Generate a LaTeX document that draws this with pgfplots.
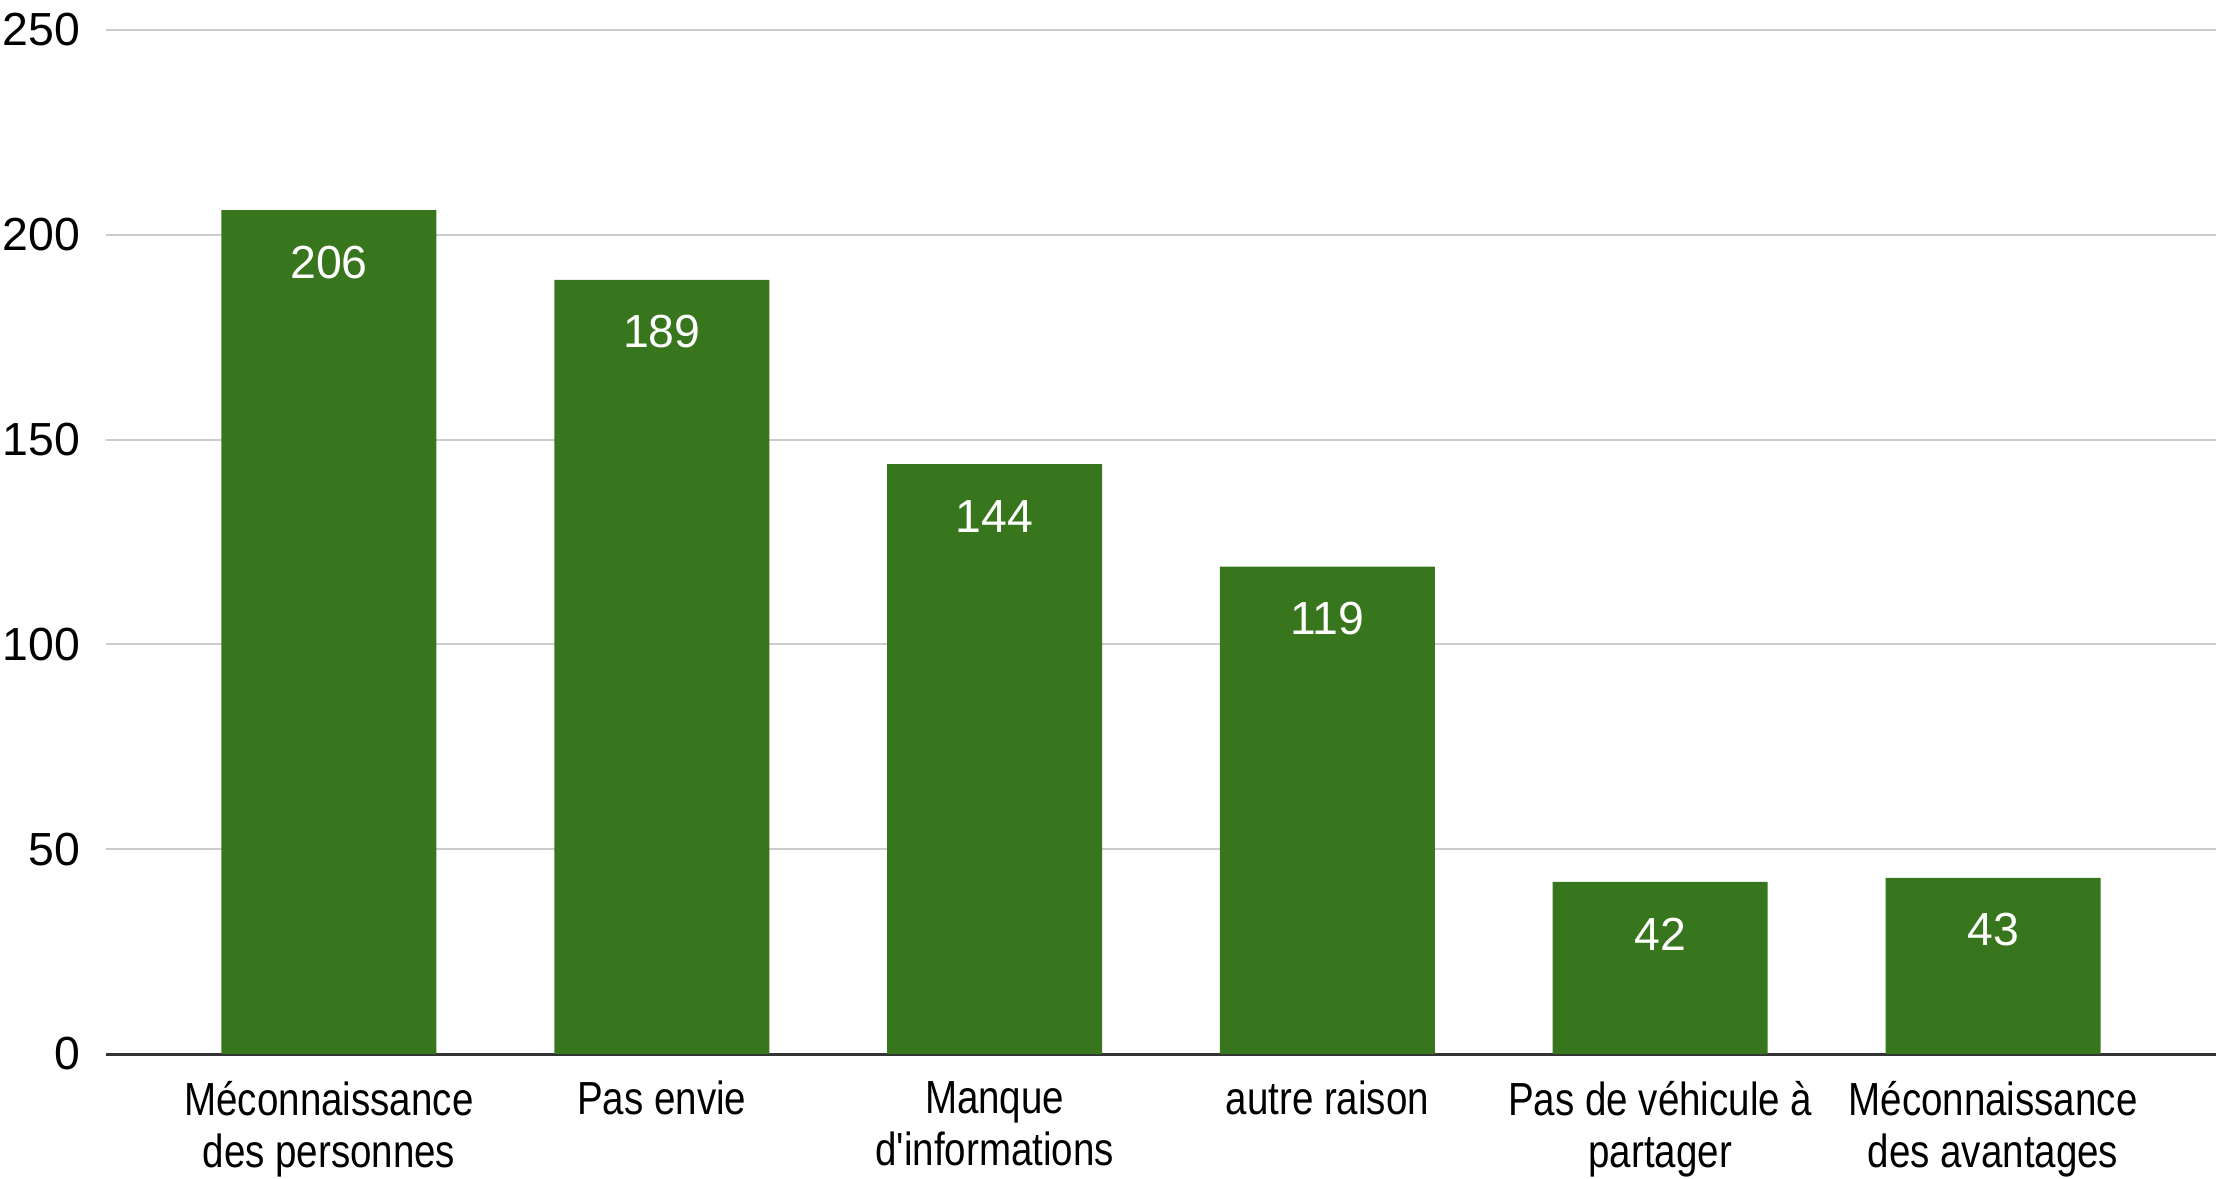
\documentclass[border=0pt]{standalone}
\usepackage{pgfplots}
\pgfplotsset{compat=1.18}
\usepackage{fontspec}
\setmainfont{Liberation Sans}
\newfontfamily\narrowfont[FakeStretch=0.83]{Liberation Sans}
\definecolor{bargreen}{HTML}{38761D}
\definecolor{gridgray}{HTML}{CCCCCC}
\definecolor{axisdark}{HTML}{333333}
\begin{document}
\begin{tikzpicture}
\begin{axis}[
  scale only axis,
  width=527.5pt, height=256pt,
  ybar, bar width=0.646,
  xmin=-0.67, xmax=5.67,
  ymin=0, ymax=250,
  ytick={0,50,100,150,200,250},
  xtick={0,1,2,3,4,5},
  xticklabels={{Méconnaissance\\des personnes},{Pas envie},{Manque\\d'informations},{autre raison},{Pas de véhicule à\\partager},{Méconnaissance\\des avantages}},
  /pgf/number format/assume math mode=true,
  yticklabel style={font=\fontsize{11.6}{12}\selectfont, text=black, xshift=-3pt},
  xticklabel style={font=\narrowfont\fontsize{11.6}{13}\selectfont, text=black, align=center, yshift=-3.3pt},
  major tick length=0pt,
  ymajorgrids,
  grid style={gridgray, line width=0.5pt},
  axis x line*=bottom,
  axis y line*=left,
  y axis line style={draw=none},
  x axis line style={axisdark, line width=0.75pt},
  nodes near coords,
  every node near coord/.append style={anchor=center, yshift=-13pt, text=white, font=\fontsize{11.6}{12}\selectfont},
]
\addplot[fill=bargreen, draw=none] coordinates {(0,206) (1,189) (2,144) (3,119) (4,42) (5,43)};
\end{axis}
\pgfresetboundingbox
\path[use as bounding box] ([xshift=-26.5pt,yshift=-31pt]current axis.south west) rectangle ([yshift=7.5pt]current axis.north east);
\end{tikzpicture}
\end{document}
